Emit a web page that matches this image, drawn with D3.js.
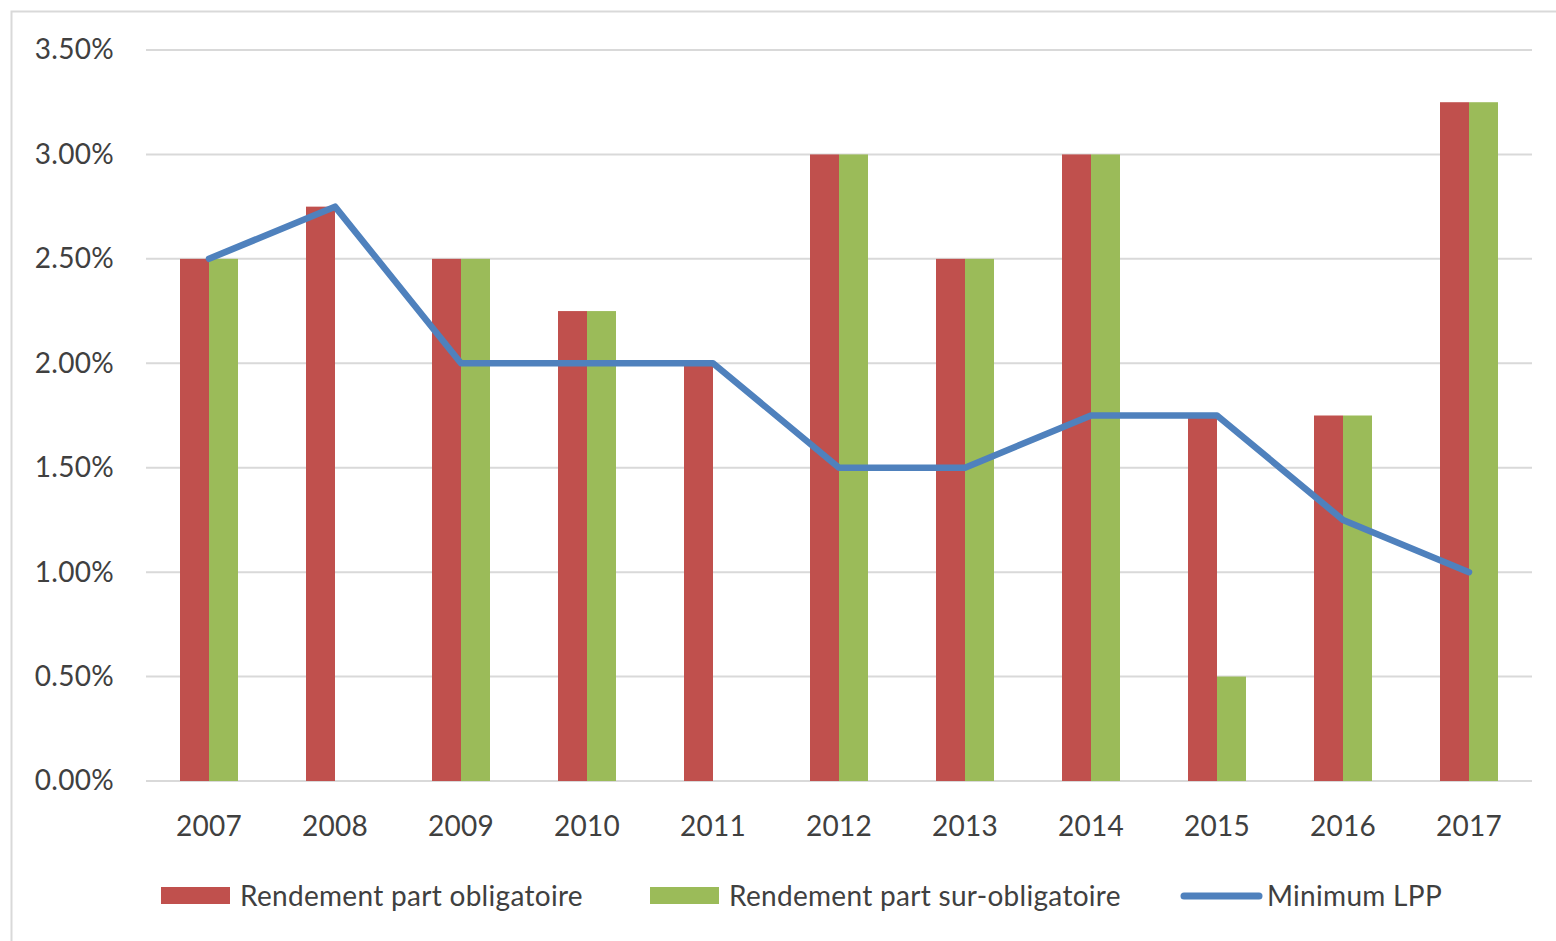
<!DOCTYPE html>
<html>
<head>
<meta charset="utf-8">
<script src="https://cdn.jsdelivr.net/npm/d3@7"></script>
<style>
  body { margin: 0; background: #fff; }
  text { font-family: Lato, "Open Sans", sans-serif; fill: #404040; }
</style>
</head>
<body>
<div id="chart-area"></div>
<script>
const years = ['2007', '2008', '2009', '2010', '2011', '2012', '2013', '2014', '2015', '2016', '2017'];
const obligatoire = [2.5, 2.75, 2.5, 2.25, 2.0, 3.0, 2.5, 3.0, 1.75, 1.75, 3.25];
const surObligatoire = [2.5, 0, 2.5, 2.25, 0, 3.0, 2.5, 3.0, 0.5, 1.75, 3.25];
const minimumLPP = [2.5, 2.75, 2.0, 2.0, 2.0, 1.5, 1.5, 1.75, 1.75, 1.25, 1.0];
const yTicks = [0, 0.5, 1, 1.5, 2, 2.5, 3, 3.5];
const seriesNames = ['Rendement part obligatoire', 'Rendement part sur-obligatoire', 'Minimum LPP'];

const W = 1556, H = 941;
const margin = {left: 146, right: 24, top: 50, bottom: 160};
const width = W - margin.left - margin.right;
const height = H - margin.top - margin.bottom;

const svg = d3.select('#chart-area')
    .append('svg')
        .attr('width', W)
        .attr('height', H);

// chart border
svg.append('rect')
    .attr('x', 11.5).attr('y', 11.5)
    .attr('width', W).attr('height', H)
    .attr('fill', 'none')
    .attr('stroke', '#d9d9d9')
    .attr('stroke-width', 2);

const g = svg.append('g')
    .attr('transform', `translate(${margin.left}, ${margin.top})`);

const x = d3.scaleBand()
    .domain(years)
    .range([0, width])
    .paddingInner(0)
    .paddingOuter(0);

const x1 = d3.scaleBand()
    .domain(['o', 's'])
    .range([x.bandwidth() / 2 - 29, x.bandwidth() / 2 + 29]);

const y = d3.scaleLinear()
    .domain([0, 3.5])
    .range([height, 0]);

// gridlines
g.append('g')
    .selectAll('line')
    .data(yTicks)
    .enter().append('line')
        .attr('x1', 0)
        .attr('x2', width)
        .attr('y1', d => y(d))
        .attr('y2', d => y(d))
        .attr('stroke', '#d9d9d9')
        .attr('stroke-width', 2);

// y axis labels
const yAxisCall = d3.axisLeft(y)
    .tickValues(yTicks)
    .tickSize(0)
    .tickPadding(32)
    .tickFormat(d => d.toFixed(2) + '%');

g.append('g')
    .attr('class', 'y-axis')
    .call(yAxisCall)
    .call(s => s.select('.domain').remove())
    .selectAll('text')
        .attr('font-size', '28px')
        .attr('font-family', 'Lato, sans-serif')
        .attr('letter-spacing', '0.3px')
        .attr('fill', '#404040');

// x axis labels
const xAxisCall = d3.axisBottom(x).tickSize(0).tickPadding(35);
g.append('g')
    .attr('class', 'x-axis')
    .attr('transform', `translate(0, ${height})`)
    .call(xAxisCall)
    .call(s => s.select('.domain').remove())
    .selectAll('text')
        .attr('font-size', '28px')
        .attr('font-family', 'Lato, sans-serif')
        .attr('letter-spacing', '0.3px')
        .attr('fill', '#404040');

// bars
const barData = [];
years.forEach((yr, i) => {
    barData.push({year: yr, key: 'o', value: obligatoire[i], color: '#C0504D'});
    barData.push({year: yr, key: 's', value: surObligatoire[i], color: '#9BBB59'});
});

g.append('g')
    .selectAll('rect')
    .data(barData.filter(d => d.value > 0))
    .enter().append('rect')
        .attr('x', d => x(d.year) + x1(d.key))
        .attr('y', d => y(d.value))
        .attr('width', x1.bandwidth())
        .attr('height', d => height - y(d.value))
        .attr('fill', d => d.color);

// line
const line = d3.line()
    .x((d, i) => x(years[i]) + x.bandwidth() / 2)
    .y(d => y(d));

g.append('path')
    .datum(minimumLPP)
    .attr('d', line)
    .attr('fill', 'none')
    .attr('stroke', '#4F81BD')
    .attr('stroke-width', 6.5)
    .attr('stroke-linecap', 'round')
    .attr('stroke-linejoin', 'round');

// legend
const legend = svg.append('g').attr('class', 'legend');
const legendX = [161, 650, 1184];
const legendY = 896;

seriesNames.forEach((name, i) => {
    if (i < 2) {
        legend.append('rect')
            .attr('x', legendX[i])
            .attr('y', legendY - 9)
            .attr('width', 69)
            .attr('height', 17)
            .attr('fill', i === 0 ? '#C0504D' : '#9BBB59');
    } else {
        legend.append('line')
            .attr('x1', legendX[i])
            .attr('x2', legendX[i] + 75)
            .attr('y1', legendY)
            .attr('y2', legendY)
            .attr('stroke', '#4F81BD')
            .attr('stroke-width', 7)
            .attr('stroke-linecap', 'round');
    }
    legend.append('text')
        .attr('x', legendX[i] + (i < 2 ? 79 : 83))
        .attr('y', legendY)
        .attr('dy', '0.35em')
        .attr('font-size', '28px')
        .attr('letter-spacing', '0.3px')
        .text(name);
});
</script>
</body>
</html>
